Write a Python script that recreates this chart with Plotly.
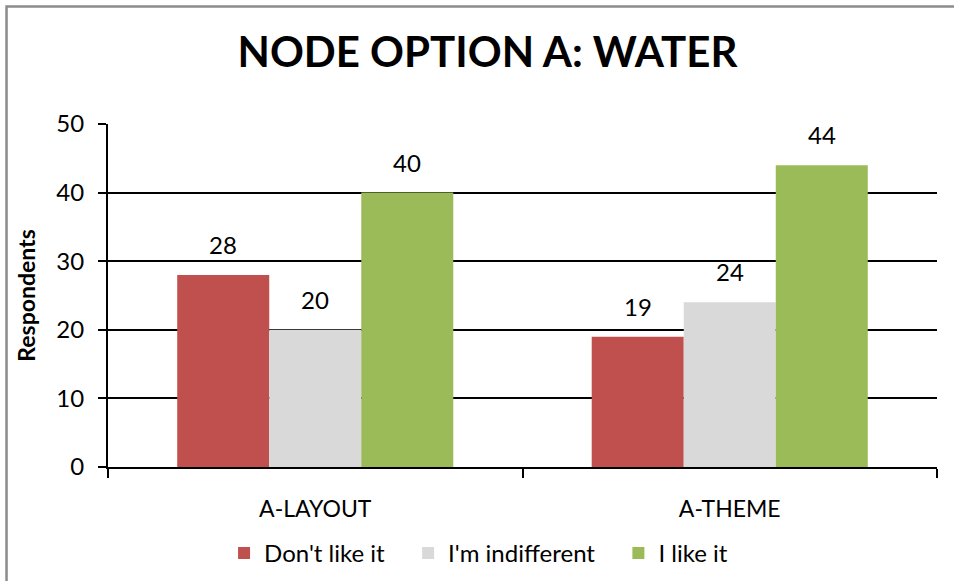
import plotly.graph_objects as go

categories = ["A-LAYOUT", "A-THEME"]
series_names = ["Don't like it", "I'm indifferent", "I like it"]
dont_like = [28, 19]
indifferent = [20, 24]
like_it = [40, 44]
colors = ["#C0504D", "#D9D9D9", "#9BBB59"]
y_ticks = [0, 10, 20, 30, 40, 50]

FONT = "Lato"
values = [dont_like, indifferent, like_it]
NBSP = "\u00a0"
legend_pad = [3, 3, 0]

fig = go.Figure()
for name, vals, col, pad in zip(series_names, values, colors, legend_pad):
    fig.add_trace(go.Bar(x=categories, y=vals, name=name + NBSP * pad,
                         marker=dict(color=col, line=dict(width=0))))

# data labels
bar_px = 92
for i, vals in enumerate(values):
    for cat, v in zip(categories, vals):
        fig.add_annotation(x=cat, y=v, text=str(v), showarrow=False, yanchor="bottom",
                           xshift=(i - 1) * bar_px, yshift=14,
                           font=dict(family=FONT, size=24, color="black"))

# outer gray frame
fig.add_shape(type="rect", xref="paper", yref="paper", x0=-0.1224, x1=1.05, y0=-0.4, y1=1.3426,
              line=dict(color="#8c8c8c", width=2.5), fillcolor="rgba(0,0,0,0)", layer="below")

fig.update_layout(
    width=954, height=581,
    margin=dict(l=108, r=17, t=124, b=114, autoexpand=False),
    paper_bgcolor="white", plot_bgcolor="white",
    barmode="group", bargap=0.334, bargroupgap=0,
    title=dict(text="<b>NODE OPTION A: WATER</b>", x=0.511, xanchor="center", y=0.91, yanchor="middle",
               font=dict(family=FONT, size=42, color="black")),
    font=dict(family=FONT, size=24, color="black"),
    legend=dict(orientation="h", x=0.447, xanchor="center", y=-0.186, yanchor="top",
                font=dict(family=FONT, size=24, color="black"), itemwidth=30,
                traceorder="normal"),
    showlegend=True,
)
fig.update_xaxes(showline=True, linecolor="black", linewidth=2, ticks="outside", tickson="boundaries",
                 ticklen=9, tickwidth=1.5, tickcolor="black", showgrid=False, automargin=False,
                 tickfont=dict(family=FONT, size=23, color="black"), ticklabelstandoff=20)
fig.update_yaxes(range=[0, 50], tickvals=y_ticks, showline=True, linecolor="black", linewidth=2,
                 ticks="outside", ticklen=8, tickwidth=1.5, tickcolor="black", automargin=False,
                 showgrid=True, gridcolor="black", gridwidth=2, zeroline=False,
                 tickfont=dict(family=FONT, size=24, color="black"), ticklabelstandoff=9,
                 title=dict(text="<b>Respondents</b>", font=dict(family=FONT, size=23, color="black"), standoff=14))

fig.write_html("out.html", config={"displayModeBar": False},
               post_script="document.body.style.margin='0';")
